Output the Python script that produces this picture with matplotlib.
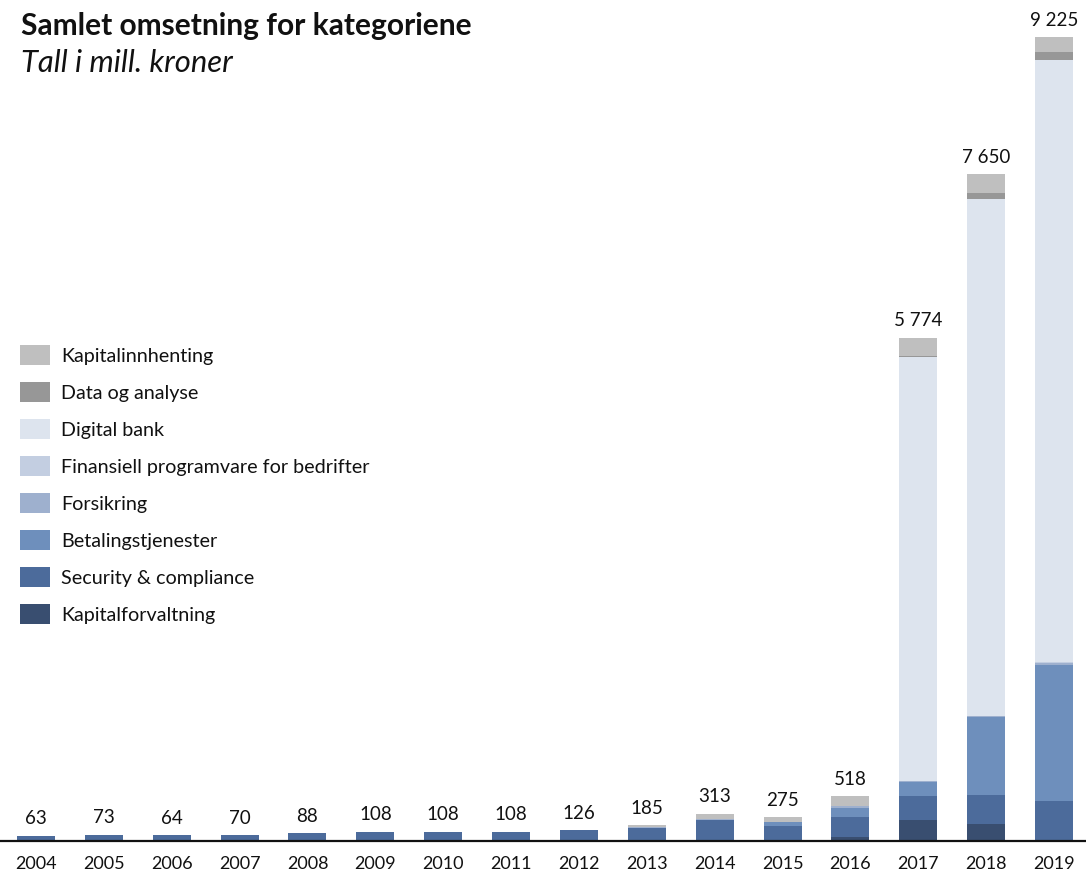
import matplotlib
matplotlib.use("Agg")
import matplotlib.pyplot as plt
from matplotlib.patches import Patch
import numpy as np

plt.rcParams['font.family'] = ['Lato', 'DejaVu Sans']

years = [str(y) for y in range(2004, 2020)]

# Revenue per category, million NOK (stacked bottom to top)
kapitalforvaltning = [0, 0, 0, 0, 0, 0, 0, 0, 0, 0, 0, 0, 46, 241, 190, 5]
security_compliance = [63, 73, 64, 70, 88, 108, 108, 108, 126, 153, 244, 172, 235, 275, 333, 451]
betalingstjenester = [0, 0, 0, 0, 0, 0, 0, 0, 0, 0, 0, 42, 96, 164, 898, 1568]
forsikring = [0, 0, 0, 0, 0, 0, 0, 0, 0, 12, 12, 0, 19, 8, 10, 16]
finansiell_programvare = [0, 0, 0, 0, 0, 0, 0, 0, 0, 0, 0, 0, 0, 4, 6, 10]
digital_bank = [0, 0, 0, 0, 0, 0, 0, 0, 0, 0, 0, 0, 0, 4866, 5926, 6907]
data_og_analyse = [0, 0, 0, 0, 0, 0, 0, 0, 0, 0, 0, 0, 0, 10, 69, 92]
kapitalinnhenting = [0, 0, 0, 0, 0, 0, 0, 0, 0, 20, 57, 61, 122, 206, 218, 176]

series = [
    ("Kapitalforvaltning", kapitalforvaltning, "#394E70"),
    ("Security & compliance", security_compliance, "#4C6B9B"),
    ("Betalingstjenester", betalingstjenester, "#6E8FBC"),
    ("Forsikring", forsikring, "#9EB0CE"),
    ("Finansiell programvare for bedrifter", finansiell_programvare, "#C3CEE1"),
    ("Digital bank", digital_bank, "#DDE4EE"),
    ("Data og analyse", data_og_analyse, "#979797"),
    ("Kapitalinnhenting", kapitalinnhenting, "#BFBFBF"),
]

W, H = 1086, 871
fig = plt.figure(figsize=(W / 100, H / 100), dpi=100)
ax = fig.add_axes([0, 1 - 841 / H, 1, (841 - 20) / H])

x = np.arange(len(years))
bottom = np.zeros(len(years))
handles = []
for name, vals, color in series:
    v = np.array(vals, dtype=float)
    ax.bar(x, v, width=0.56, bottom=bottom, color=color, linewidth=0)
    bottom += v
    handles.append(Patch(facecolor=color, edgecolor='none', label=name))

totals = bottom
for xi, t in zip(x, totals):
    label = f"{int(round(t)):,}".replace(",", " ")
    ax.annotate(label, (xi, t), xytext=(0, 6), textcoords='offset points',
                ha='center', va='bottom', fontsize=13.5, color='#111111')

ax.set_xlim(-0.53, 15.47)
ax.set_ylim(0, 821 / 0.08716)
for s in ['top', 'right', 'left']:
    ax.spines[s].set_visible(False)
ax.spines['bottom'].set_color('#111111')
ax.spines['bottom'].set_linewidth(1.6)
ax.set_yticks([])
ax.set_xticks(x)
ax.set_xticklabels(years, fontsize=13, color='#111111')
ax.tick_params(axis='x', length=0, pad=11)

fs = 14.2
leg = ax.legend(handles=handles[::-1], loc='upper left',
                bbox_to_anchor=(20 / W, 1 - 345 / H), bbox_transform=fig.transFigure,
                frameon=False, fontsize=fs, handlelength=1.52, handleheight=1.17,
                handletextpad=0.55, labelspacing=0.87, borderpad=0, borderaxespad=0)
for t in leg.get_texts():
    t.set_color('#111111')

fig.text(21 / W, 1 - 26 / H, "Samlet omsetning for kategoriene", fontsize=21.5,
         fontweight='bold', ha='left', va='center', color='#111111')
fig.text(21 / W, 1 - 63 / H, "Tall i mill. kroner", fontsize=22.3, style='italic',
         ha='left', va='center', color='#111111')

fig.savefig("out.png", dpi=100)
